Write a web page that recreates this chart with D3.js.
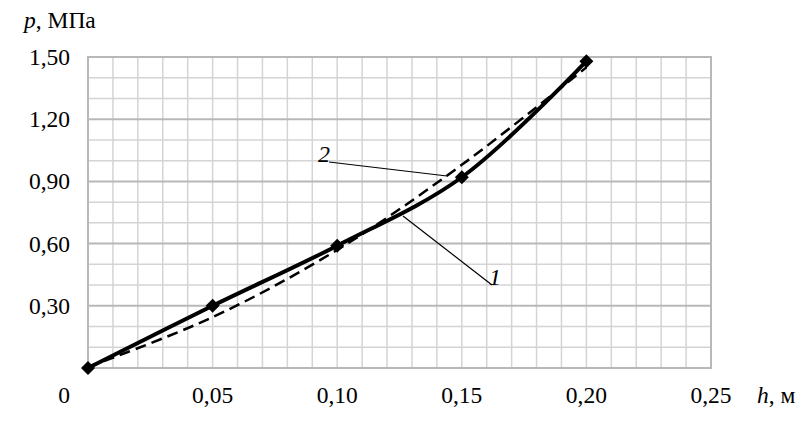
<!DOCTYPE html>
<html>
<head>
<meta charset="utf-8">
<script src="https://cdn.jsdelivr.net/npm/d3@7"></script>
<style>
  body { margin: 0; background: #fff; }
  text { font-family: "Liberation Serif", "Times New Roman", serif; fill: #000; }
</style>
</head>
<body>
<svg id="chart" width="805" height="430"></svg>
<script>
// Data
var hValues = [0, 0.05, 0.10, 0.15, 0.20];
var curve1 = [0, 0.30, 0.59, 0.92, 1.48];       // solid, with markers
var curve2 = [0.005, 0.245, 0.57, 0.98, 1.45];   // dashed
var xTicks = [0.05, 0.10, 0.15, 0.20, 0.25];
var yTicks = [0.30, 0.60, 0.90, 1.20, 1.50];

var svg = d3.select("#chart");
var plotL = 88, plotR = 711, plotT = 57, plotB = 368;

var x = d3.scaleLinear().domain([0, 0.25]).range([plotL, plotR]);
var y = d3.scaleLinear().domain([0, 1.5]).range([plotB, plotT]);

var fmt = function (v) { return v.toFixed(2).replace(".", ","); };

// Grid: minor every 0.01 / 0.1, major horizontal every 0.3
var grid = svg.append("g");
d3.range(1, 25).forEach(function (i) {
    var v = i / 100;
    grid.append("line")
        .attr("x1", x(v)).attr("x2", x(v))
        .attr("y1", plotT).attr("y2", plotB)
        .attr("stroke", "#d4d4d4").attr("stroke-width", 1.5);
});
d3.range(1, 15).forEach(function (i) {
    var v = i / 10;
    var major = i % 3 === 0;
    grid.append("line")
        .attr("x1", plotL).attr("x2", plotR)
        .attr("y1", y(v)).attr("y2", y(v))
        .attr("stroke", major ? "#b8b8b8" : "#d4d4d4")
        .attr("stroke-width", major ? 2 : 1.5);
});
grid.append("rect")
    .attr("x", plotL).attr("y", plotT)
    .attr("width", plotR - plotL).attr("height", plotB - plotT)
    .attr("fill", "none").attr("stroke", "#b8b8b8").attr("stroke-width", 2);

// Axis tick labels
svg.append("g").selectAll("text").data(yTicks).enter().append("text")
    .attr("x", 70).attr("y", function (d) { return y(d) + 8; })
    .attr("text-anchor", "end").attr("font-size", 23.5)
    .text(fmt);

svg.append("g").selectAll("text").data(xTicks).enter().append("text")
    .attr("x", function (d) { return x(d); }).attr("y", 403)
    .attr("text-anchor", "middle").attr("font-size", 23.5)
    .text(fmt);

svg.append("text").attr("x", 64).attr("y", 403)
    .attr("text-anchor", "middle").attr("font-size", 23.5).text("0");

// Axis titles
var yt = svg.append("text").attr("x", 24).attr("y", 28).attr("font-size", 23.5);
yt.append("tspan").attr("font-style", "italic").text("p");
yt.append("tspan").text(", МПа");

var xt = svg.append("text").attr("x", 757).attr("y", 403).attr("font-size", 23.5);
xt.append("tspan").attr("font-style", "italic").text("h");
xt.append("tspan").text(", м");

// Curves
var pts1 = hValues.map(function (h, i) { return [h, curve1[i]]; });
var pts2 = hValues.map(function (h, i) { return [h, curve2[i]]; });

var line = d3.line()
    .x(function (d) { return x(d[0]); })
    .y(function (d) { return y(d[1]); })
    .curve(d3.curveCatmullRom.alpha(0.5));

svg.append("path").datum(pts2)
    .attr("d", line)
    .attr("fill", "none").attr("stroke", "#000")
    .attr("stroke-width", 2.5).attr("stroke-dasharray", "11,6");

svg.append("path").datum(pts1)
    .attr("d", line)
    .attr("fill", "none").attr("stroke", "#000")
    .attr("stroke-width", 4);

svg.append("g").selectAll("path").data(pts1).enter().append("path")
    .attr("d", d3.symbol().type(d3.symbolDiamond2).size(125))
    .attr("transform", function (d) {
        return "translate(" + x(d[0]) + "," + y(d[1]) + ")";
    })
    .attr("fill", "#000");

// Leader lines and curve numbers
svg.append("line").attr("x1", 329).attr("y1", 162).attr("x2", 447).attr("y2", 176)
    .attr("stroke", "#000").attr("stroke-width", 1.2);
svg.append("text").attr("x", 318).attr("y", 162).attr("font-size", 24)
    .attr("font-style", "italic").text("2");

svg.append("line").attr("x1", 403).attr("y1", 216).attr("x2", 492).attr("y2", 285)
    .attr("stroke", "#000").attr("stroke-width", 1.2);
svg.append("text").attr("x", 489).attr("y", 285).attr("font-size", 24)
    .attr("font-style", "italic").text("1");
</script>
</body>
</html>
